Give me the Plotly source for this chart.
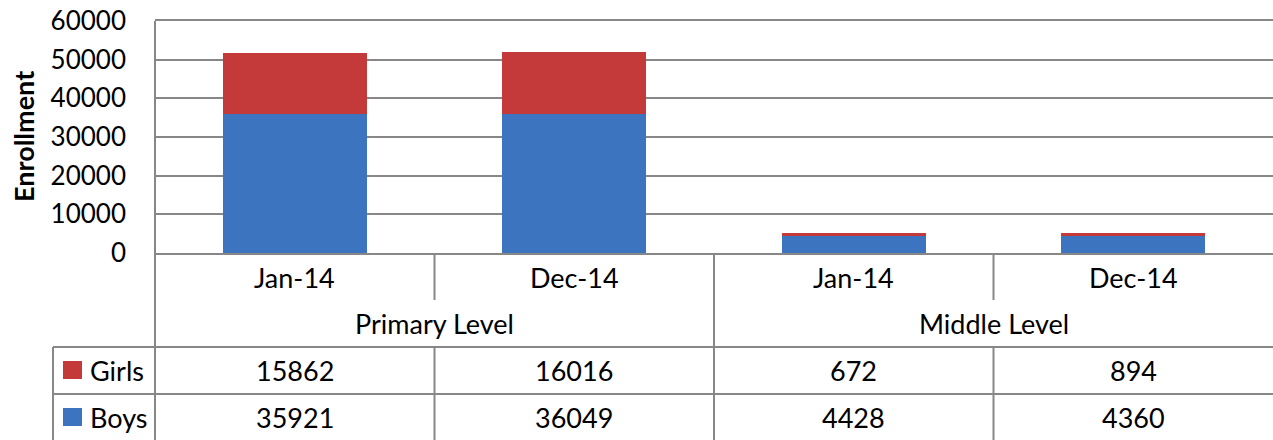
import plotly.graph_objects as go

# ---- data ----
periods = ["Jan-14", "Dec-14", "Jan-14", "Dec-14"]
levels = ["Primary Level", "Middle Level"]
boys = [35921, 36049, 4428, 4360]
girls = [15862, 16016, 672, 894]
y_ticks = [0, 10000, 20000, 30000, 40000, 50000, 60000]

# ---- geometry helpers (pixel -> paper) ----
W, H = 1273, 440
ML, MR, MT, MB = 155, 0, 21, 0
PW, PH = W - ML - MR, H - MT - MB


def xp(px):
    return (px - ML) / PW


def yp(py):
    return (H - MB - py) / PH


FONT = "Lato"
FS = 27
GRID = "#878787"
BLUE = "#3C74C0"
RED = "#C43A3B"

x_idx = list(range(len(periods)))

fig = go.Figure()
fig.add_trace(go.Bar(x=x_idx, y=boys, name="Boys", marker=dict(color=BLUE, line=dict(width=0)), width=0.515))
fig.add_trace(go.Bar(x=x_idx, y=girls, name="Girls", marker=dict(color=RED, line=dict(width=0)), width=0.515))

shapes = []
annotations = []


def vline(xref, x, y0, y1):
    shapes.append(dict(type="line", xref=xref, yref="paper", x0=x, x1=x, y0=yp(y0), y1=yp(y1),
                       line=dict(color=GRID, width=2), layer="above"))


def hline(x0, x1, y):
    shapes.append(dict(type="line", xref="paper", yref="paper", x0=xp(x0), x1=xp(x1), y0=yp(y), y1=yp(y),
                       line=dict(color=GRID, width=2), layer="above"))


def label(x, y, text, xref="x", xanchor="center", size=FS, angle=0):
    annotations.append(dict(x=x, y=y, xref=xref, yref="paper", text=text, showarrow=False,
                            xanchor=xanchor, yanchor="middle", textangle=angle,
                            font=dict(family=FONT, size=size, color="black")))


# plot-area left border extending through the table
vline("paper", 0, 21, 440)
# table left column border
vline("paper", xp(53), 347, 440)
# category dividers
n = len(periods)
for i in range(n - 1):
    b = i + 0.5
    if (i + 1) % 2 == 0:
        vline("x", b, 253, 440)
    else:
        vline("x", b, 253, 300)
        vline("x", b, 347, 440)
# table horizontal lines
hline(53, W, 347)
hline(53, W, 394)

# period labels
for i, p in enumerate(periods):
    label(i, yp(277), p)
# level labels
for g, lv in enumerate(levels):
    label(2 * g + 0.5, yp(323), lv)
# table values
for i in range(n):
    label(i, yp(370), str(girls[i]))
    label(i, yp(417), str(boys[i]))
# row headers with keys
for name, color, cy in [("Girls", RED, 370), ("Boys", BLUE, 417)]:
    shapes.append(dict(type="rect", xref="paper", yref="paper", x0=xp(63), x1=xp(82), y0=yp(cy - 9), y1=yp(cy + 9),
                       fillcolor=color, line=dict(width=0)))
    label(xp(88), yp(cy), name, xref="paper", xanchor="left")

# y-axis title
label(xp(23), yp(137), "<b>Enrollment</b>", xref="paper", size=27, angle=-90)

fig.update_layout(
    barmode="stack",
    width=W, height=H,
    margin=dict(l=ML, r=MR, t=MT, b=MB, autoexpand=False),
    paper_bgcolor="white", plot_bgcolor="white",
    showlegend=False,
    shapes=shapes,
    annotations=annotations,
    font=dict(family=FONT, size=FS, color="black"),
    xaxis=dict(range=[-0.5, n - 0.5], showticklabels=False, showgrid=False, zeroline=False, automargin=False,
               showline=True, mirror=True, linecolor=GRID, linewidth=2, ticks=""),
    yaxis=dict(domain=[yp(253), 1], range=[0, 60000], tickvals=y_ticks, ticktext=[str(v) for v in y_ticks],
               showgrid=True, gridcolor=GRID, gridwidth=2, zeroline=False, showline=False, automargin=False,
               ticks="", ticklabelstandoff=28, tickfont=dict(family=FONT, size=26, color="black")),
)

fig.write_html("out.html", config={"displayModeBar": False},
               post_script="document.body.style.margin='0';document.body.style.overflow='hidden';")
